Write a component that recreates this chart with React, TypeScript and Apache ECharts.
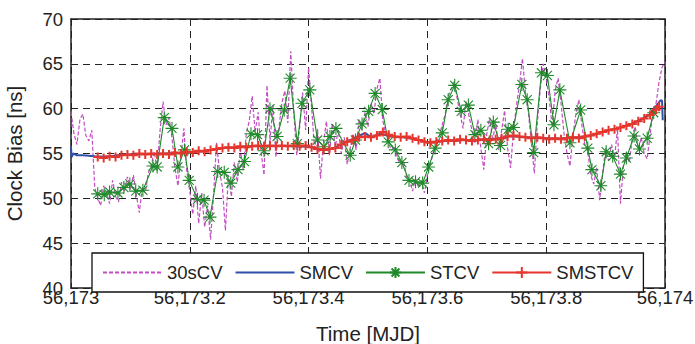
import React, { useEffect, useRef } from "react";
import * as echarts from "echarts";

const MJD0 = 56173;
const xTickValues = [56173, 56173.2, 56173.4, 56173.6, 56173.8, 56174];
const yTickValues = [40, 45, 50, 55, 60, 65, 70];

// 30sCV: 30-second common-view clock bias (sampled every 0.005 day in this reading)
const cv30Step = 0.005;
const cv30Values = [
  59.6, 57.2, 56.0, 58.8, 59.4, 57.0, 56.4, 57.6, 51.2, 50.0,
  49.2, 51.4, 50.6, 49.4, 52.0, 50.2, 49.6, 51.8, 50.8, 52.4,
  51.0, 52.6, 50.4, 48.4, 51.2, 50.6, 52.8, 53.6, 55.2, 53.2,
  57.6, 60.8, 58.2, 59.0, 56.8, 53.4, 51.4, 54.6, 57.8, 53.0,
  50.8, 48.2, 51.4, 47.2, 50.6, 46.8, 49.2, 45.4, 50.4, 56.2,
  53.0, 51.2, 46.4, 52.6, 50.2, 54.0, 51.8, 55.4, 53.2, 57.2,
  58.6, 61.4, 57.4, 59.6, 55.2, 52.6, 62.6, 56.4, 60.4, 54.6,
  57.8, 60.6, 62.0, 58.4, 66.4, 59.6, 54.8, 58.0, 61.8, 57.6,
  64.6, 60.2, 55.6, 57.8, 52.2, 56.2, 58.6, 54.8, 58.4, 55.8,
  57.6, 55.0, 56.8, 53.8, 55.6, 57.2, 55.4, 58.8, 57.6, 59.6,
  58.0, 60.6, 59.4, 62.2, 63.4, 58.6, 57.2, 56.0, 55.4, 55.8,
  54.4, 53.8, 54.2, 52.4, 52.0, 50.8, 52.2, 51.2, 52.0, 50.6,
  52.6, 53.8, 55.2, 56.0, 57.0, 58.2, 59.4, 61.4, 62.2, 63.0,
  61.2, 59.4, 57.8, 60.8, 59.2, 57.6, 56.2, 58.8, 55.6, 53.2,
  57.2, 59.0, 56.4, 58.6, 55.4, 57.6, 59.8, 55.6, 53.4, 57.6,
  60.4, 62.6, 65.6, 61.8, 59.6, 56.2, 52.8, 58.4, 62.2, 65.0,
  63.4, 61.2, 58.0, 62.0, 63.4, 60.6, 57.2, 55.0, 53.6, 57.0,
  59.4, 61.0, 58.2, 56.0, 55.2, 52.6, 51.6, 53.4, 49.8, 52.8,
  55.6, 54.2, 56.0, 54.4, 57.8, 49.4, 53.6, 55.2, 54.0, 56.8,
  58.0, 55.4, 56.8, 55.0, 54.4, 57.2, 59.6, 60.6, 63.0, 64.6,
  65.2,
];

// SMCV (blue)
const smcvOffsets = [
  0, 0.001, 0.004, 0.01, 0.02, 0.03, 0.04, 0.06, 0.08, 0.1, 0.12, 0.14, 0.16,
  0.18, 0.2, 0.22, 0.24, 0.26, 0.28, 0.3, 0.32, 0.34, 0.36, 0.38, 0.4, 0.42,
  0.44, 0.46, 0.48, 0.495, 0.505, 0.52, 0.54, 0.56, 0.58, 0.6, 0.62, 0.64,
  0.66, 0.68, 0.7, 0.72, 0.74, 0.76, 0.78, 0.8, 0.82, 0.84, 0.86, 0.88, 0.9,
  0.92, 0.94, 0.96, 0.975, 0.983, 0.992, 0.995, 0.9962,
];
const smcvValues = [
  55.7, 54.6, 55.0, 54.8, 54.8, 54.75, 54.7, 54.65, 54.8, 54.9, 54.95, 54.95,
  55.0, 55.05, 55.15, 55.25, 55.45, 55.6, 55.7, 55.8, 55.85, 55.85, 55.85,
  55.8, 55.75, 55.5, 55.5, 56.2, 56.8, 57.3, 56.8, 57.2, 56.9, 56.8, 56.6,
  56.25, 56.35, 56.45, 56.5, 56.45, 56.55, 56.65, 56.95, 56.85, 56.75, 56.7,
  56.65, 56.75, 56.85, 57.1, 57.5, 57.8, 58.2, 58.8, 59.4, 60.1, 60.9, 60.9,
  58.7,
];

// STCV (green stars)
const stcvOffsets = [
  0.045, 0.056, 0.065, 0.079, 0.089, 0.099, 0.109, 0.121, 0.138, 0.145, 0.157,
  0.17, 0.18, 0.191, 0.199, 0.213, 0.224, 0.234, 0.247, 0.258, 0.269, 0.281,
  0.292, 0.303, 0.314, 0.325, 0.335, 0.347, 0.359, 0.369, 0.381, 0.389, 0.402,
  0.415, 0.426, 0.436, 0.446, 0.47, 0.479, 0.49, 0.501, 0.512, 0.524, 0.534,
  0.546, 0.557, 0.569, 0.58, 0.592, 0.602, 0.613, 0.625, 0.635, 0.646, 0.657,
  0.669, 0.68, 0.69, 0.703, 0.711, 0.723, 0.736, 0.745, 0.759, 0.768, 0.779,
  0.792, 0.802, 0.813, 0.823, 0.84, 0.858, 0.87, 0.877, 0.892, 0.901, 0.912,
  0.925, 0.935, 0.948, 0.957, 0.97, 0.981,
];
const stcvValues = [
  50.5, 50.4, 50.7, 50.6, 51.2, 51.6, 50.8, 50.9, 53.6, 53.5, 59.0, 57.8, 53.5,
  55.4, 52.0, 49.9, 49.8, 47.9, 53.0, 52.9, 51.7, 53.2, 54.1, 57.2, 57.1, 55.3,
  60.0, 56.9, 59.85, 63.4, 56.1, 60.6, 62.1, 56.5, 55.75, 56.9, 57.8, 54.8,
  56.5, 58.3, 59.7, 61.7, 59.9, 56.3, 55.4, 54.0, 52.0, 51.85, 51.7, 53.5, 55.6,
  57.3, 61.0, 62.6, 59.7, 60.4, 57.1, 57.6, 56.1, 58.5, 55.9, 57.7, 57.9, 62.7,
  61.0, 55.1, 64.0, 63.7, 58.2, 62.1, 56.2, 59.85, 55.6, 53.2, 51.4, 55.2, 54.7,
  52.7, 54.5, 56.95, 55.5, 56.7, 59.55,
];

// SMSTCV (red plus), sampled every 0.01 day from 0.045
const smstcvStart = 0.045;
const smstcvStep = 0.01;
const smstcvValues = [
  54.6, 54.5, 54.7, 54.6, 54.8, 54.9, 54.8, 55.0, 54.9, 55.0,
  54.9, 55.0, 54.9, 55.1, 55.0, 55.2, 55.1, 55.3, 55.2, 55.4,
  55.5, 55.6, 55.7, 55.6, 55.8, 55.7, 55.8, 55.9, 55.8, 55.9,
  55.8, 55.9, 55.8, 55.9, 55.8, 55.9, 55.7, 55.5, 55.4, 55.5,
  55.6, 56.0, 56.3, 56.5, 56.8, 56.9, 56.8, 57.0, 57.4, 57.1,
  56.9, 56.8, 56.9, 56.7, 56.5, 56.3, 56.2, 56.3, 56.4, 56.5,
  56.4, 56.6, 56.5, 56.4, 56.5, 56.6, 56.5, 56.6, 56.7, 56.9,
  57.0, 56.9, 56.8, 56.7, 56.8, 56.7, 56.6, 56.7, 56.6, 56.7,
  56.8, 56.7, 56.9, 57.0, 57.2, 57.4, 57.6, 57.7, 57.9, 58.1,
  58.3, 58.6, 58.9, 59.3, 59.9, 60.2,
];

const FONT = "'Liberation Sans', Arial, Helvetica, sans-serif";
const STAR = "path://M10,0L10,20M0,10L20,10M3,3L17,17M3,17L17,3";
const PLUS = "path://M5,0L5,10M0,5L10,5";

function fmtTick(v: number): string {
  const r = Math.round(v * 10) / 10;
  const ip = Math.floor(r + 1e-9);
  const frac = Math.round((r - ip) * 10);
  const s = ip.toString().replace(/\B(?=(\d{3})+(?!\d))/g, ",");
  return frac === 0 ? s : s + "." + frac;
}

export default function App() {
  const ref = useRef<HTMLDivElement>(null);
  useEffect(() => {
    if (!ref.current) return;
    const chart = echarts.init(ref.current, undefined, { renderer: "svg" });

    const cv30Data = cv30Values.map((v, i) => [MJD0 + i * cv30Step, v]);
    const smcvData = smcvOffsets.map((o, i) => [MJD0 + o, smcvValues[i]]);
    const stcvData = stcvOffsets.map((o, i) => [MJD0 + o, stcvValues[i]]);
    const smstcvData = smstcvValues.map((v, i) => [
      MJD0 + Math.min(smstcvStart + i * smstcvStep, 0.99),
      v,
    ]);

    const gridDash = {
      show: true,
      lineStyle: { color: "#222", width: 1, type: [7, 5] as any },
    };
    const axisLineStyle = { show: true, lineStyle: { color: "#222", width: 1.5 } };
    const tickStyle = { show: true, inside: true, length: 5, lineStyle: { color: "#222", width: 1 } };

    chart.setOption({
      animation: false,
      backgroundColor: "#fff",
      textStyle: { fontFamily: FONT },
      grid: {
        left: 71,
        right: 30,
        top: 19,
        bottom: 56,
        containLabel: false,
        outerBoundsMode: "none",
      },
      xAxis: [
        {
          type: "value",
          min: 56173,
          max: 56174,
          interval: 0.2,
          position: "bottom",
          name: "Time [MJD]",
          nameLocation: "middle",
          nameGap: 35,
          nameTextStyle: { fontSize: 20.5, color: "#222", fontFamily: FONT },
          axisLine: axisLineStyle,
          axisTick: tickStyle,
          axisLabel: {
            margin: 0,
            fontSize: 18.5,
            color: "#222",
            fontFamily: FONT,
            formatter: (v: number) => fmtTick(v),
          },
          splitLine: gridDash,
        },
        {
          type: "value",
          min: 56173,
          max: 56174,
          interval: 0.2,
          position: "top",
          axisLine: axisLineStyle,
          axisTick: tickStyle,
          axisLabel: { show: false },
          splitLine: { show: false },
        },
      ],
      yAxis: [
        {
          type: "value",
          min: 40,
          max: 70,
          interval: 5,
          position: "left",
          name: "Clock Bias [ns]",
          nameLocation: "middle",
          nameGap: 46,
          nameTextStyle: { fontSize: 20.5, color: "#222", fontFamily: FONT },
          axisLine: axisLineStyle,
          axisTick: tickStyle,
          axisLabel: { margin: 8, fontSize: 18.5, color: "#222", fontFamily: FONT },
          splitLine: gridDash,
        },
        {
          type: "value",
          min: 40,
          max: 70,
          interval: 5,
          position: "right",
          axisLine: axisLineStyle,
          axisTick: tickStyle,
          axisLabel: { show: false },
          splitLine: { show: false },
        },
      ],
      legend: {
        left: 92,
        top: 253,
        orient: "horizontal",
        padding: [10, 10, 10, 10],
        itemWidth: 59,
        itemHeight: 14,
        itemGap: 12,
        backgroundColor: "#fff",
        borderColor: "#111",
        borderWidth: 1.3,
        borderRadius: 0,
        textStyle: { fontSize: 18.5, color: "#222", fontFamily: FONT },
        data: [
          { name: "30sCV", itemStyle: { opacity: 0 } },
          { name: "SMCV", itemStyle: { opacity: 0 } },
          { name: "STCV" },
          { name: "SMSTCV" },
        ],
      },
      series: [
        {
          name: "30sCV",
          type: "line",
          data: cv30Data,
          symbol: "none",
          lineStyle: { color: "#c24dc2", width: 1.2, type: [4, 2] },
          itemStyle: { color: "#c24dc2" },
          z: 2,
        },
        {
          name: "SMCV",
          type: "line",
          data: smcvData,
          symbol: "none",
          lineStyle: { color: "#2f4fa8", width: 2 },
          itemStyle: { color: "#2f4fa8" },
          z: 3,
        },
        {
          name: "STCV",
          type: "line",
          data: stcvData,
          symbol: STAR,
          symbolSize: 13,
          showAllSymbol: true,
          lineStyle: { color: "#1f8a2a", width: 1.1 },
          itemStyle: { color: "#1f8a2a", borderColor: "#1f8a2a", borderWidth: 1.1 },
          z: 4,
        },
        {
          name: "SMSTCV",
          type: "line",
          data: smstcvData,
          symbol: PLUS,
          symbolSize: 9,
          showAllSymbol: true,
          lineStyle: { color: "#e5352c", width: 1.3 },
          itemStyle: { color: "#e5352c", borderColor: "#e5352c", borderWidth: 2 },
          z: 5,
        },
      ],
    });
    return () => chart.dispose();
  }, []);
  return (
    <div
      ref={ref}
      style={{ position: "fixed", left: 0, top: 0, width: 695, height: 344 }}
    />
  );
}
